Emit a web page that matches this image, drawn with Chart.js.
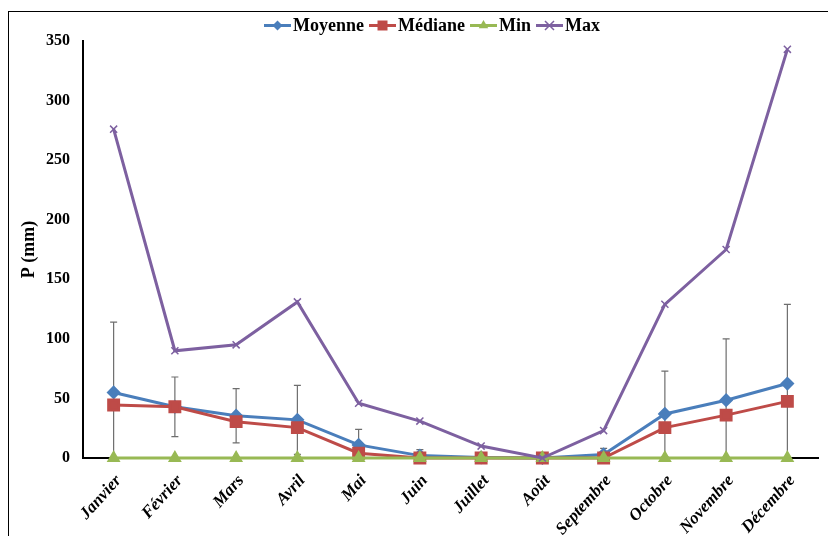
<!DOCTYPE html>
<html>
<head>
<meta charset="utf-8">
<script src="https://cdn.jsdelivr.net/npm/chart.js@4/dist/chart.umd.min.js"></script>
<style>
  html, body { margin: 0; padding: 0; background: #fff; overflow: hidden; }
  #wrap { position: relative; width: 828px; height: 536px; }
  #frame { position: absolute; left: 8px; top: 11px; width: 900px; height: 600px; border-left: 1.5px solid #000; border-top: 1.5px solid #000; }
  canvas { position: absolute; left: 0; top: 0; }
</style>
</head>
<body>
<div id="wrap">
  <div id="frame"></div>
  <canvas id="c" width="828" height="536"></canvas>
</div>
<script>
const categories = ['Janvier','Février','Mars','Avril','Mai','Juin','Juillet','Août','Septembre','Octobre','Novembre','Décembre'];
const moyenne = [55, 43, 35.5, 32, 11, 2, 0.5, 0, 3, 37, 48.5, 62.5];
const mediane = [44.5, 43, 30.5, 25.5, 4, 0, 0, 0, 0, 25.5, 36, 47.5];
const minVals = [0, 0, 0, 0, 0, 0, 0, 0, 0, 0, 0, 0];
const maxVals = [276, 90, 95, 131, 46, 31, 10, 0, 23, 129, 175, 343];
const ecartType = [59, 25, 22.8, 29, 13, 5, 1.5, 0, 5, 36, 51.5, 66.5];
const seriesNames = ['Moyenne', 'Médiane', 'Min', 'Max'];
const yTicks = [0, 50, 100, 150, 200, 250, 300, 350];

const colors = ['#4a7ebb', '#be4b48', '#98b954', '#7d60a0'];
const styles = ['rectRot', 'rect', 'triangle', 'crossRot'];

function drawMarker(ctx, style, x, y, color) {
  ctx.save();
  ctx.fillStyle = color; ctx.strokeStyle = color;
  ctx.beginPath();
  if (style === 'rectRot') {
    const r = 5;
    ctx.moveTo(x, y - r); ctx.lineTo(x + r, y); ctx.lineTo(x, y + r); ctx.lineTo(x - r, y); ctx.closePath(); ctx.fill();
  } else if (style === 'rect') {
    const s = 5; ctx.rect(x - s, y - s, 2 * s, 2 * s); ctx.fill();
  } else if (style === 'triangle') {
    const r = 5.5;
    ctx.moveTo(x, y - r); ctx.lineTo(x + r * 0.866, y + r * 0.5); ctx.lineTo(x - r * 0.866, y + r * 0.5); ctx.closePath(); ctx.fill();
  } else {
    const r = 4.5; ctx.lineWidth = 1.5;
    ctx.moveTo(x - r, y - r); ctx.lineTo(x + r, y + r); ctx.moveTo(x + r, y - r); ctx.lineTo(x - r, y + r); ctx.stroke();
  }
  ctx.restore();
}

const legendPlugin = {
  id: 'customLegend',
  afterDraw(chart) {
    const ctx = chart.ctx;
    ctx.save();
    ctx.font = 'bold 18px "Liberation Serif", "Times New Roman", serif';
    ctx.textBaseline = 'middle';
    const lineLen = 27, gap1 = 2, gap2 = 5;
    const widths = seriesNames.map(n => lineLen + gap1 + ctx.measureText(n).width);
    const total = widths.reduce((a, b) => a + b, 0) + gap2 * (seriesNames.length - 1);
    let x = 432 - total / 2;
    const y = 25.5;
    seriesNames.forEach((n, i) => {
      ctx.strokeStyle = colors[i]; ctx.lineWidth = 3;
      ctx.beginPath(); ctx.moveTo(x, y); ctx.lineTo(x + lineLen, y); ctx.stroke();
      drawMarker(ctx, styles[i], x + lineLen / 2, y, colors[i]);
      ctx.fillStyle = '#000';
      ctx.fillText(n, x + lineLen + gap1, y + 1);
      x += widths[i] + gap2;
    });
    ctx.restore();
  }
};

const errorBarPlugin = {
  id: 'errorBars',
  beforeDatasetsDraw(chart) {
    const ctx = chart.ctx;
    const xs = chart.scales.x, ys = chart.scales.y;
    const area = chart.chartArea;
    ctx.save();
    ctx.strokeStyle = '#6e6e6e';
    ctx.lineWidth = 1.2;
    moyenne.forEach((m, i) => {
      const sd = ecartType[i];
      if (!sd) return;
      const x = xs.getPixelForValue(i);
      const yTop = ys.getPixelForValue(m + sd);
      const yBotRaw = ys.getPixelForValue(m - sd);
      const yBot = Math.min(yBotRaw, area.bottom);
      ctx.beginPath();
      ctx.moveTo(x, yTop); ctx.lineTo(x, yBot);
      ctx.moveTo(x - 3.5, yTop); ctx.lineTo(x + 3.5, yTop);
      if (yBotRaw <= area.bottom - 1) { ctx.moveTo(x - 3.5, yBot); ctx.lineTo(x + 3.5, yBot); }
      ctx.stroke();
    });
    ctx.restore();
  }
};

const datasets = [
  { label: seriesNames[0], data: moyenne, borderColor: colors[0], backgroundColor: colors[0], pointStyle: 'rectRot', pointRadius: 5, order: 3 },
  { label: seriesNames[1], data: mediane, borderColor: colors[1], backgroundColor: colors[1], pointStyle: 'rect', pointRadius: 7, order: 2 },
  { label: seriesNames[2], data: minVals, borderColor: colors[2], backgroundColor: colors[2], pointStyle: 'triangle', pointRadius: 5, order: 1 },
  { label: seriesNames[3], data: maxVals, borderColor: colors[3], backgroundColor: colors[3], pointStyle: 'crossRot', pointRadius: 5, pointBorderWidth: 1.5, order: 0 }
].map(d => Object.assign({ borderWidth: 3, tension: 0, clip: false, pointBorderColor: d.borderColor, pointBackgroundColor: d.borderColor, pointHoverRadius: d.pointRadius }, d));

new Chart(document.getElementById('c'), {
  type: 'line',
  data: { labels: categories, datasets },
  options: {
    responsive: false,
    animation: false,
    devicePixelRatio: 1,
    layout: { padding: { top: 41, right: 5, left: 0, bottom: 0 } },
    plugins: { legend: { display: false }, tooltip: { enabled: false } },
    scales: {
      x: {
        offset: true,
        grid: { display: false, drawTicks: false },
        border: { display: true, color: '#000', width: 2 },
        ticks: {
          color: '#000', minRotation: 48, maxRotation: 48, padding: 13, labelOffset: 5, autoSkip: false,
          font: { family: '"Liberation Serif", "Times New Roman", serif', size: 17, weight: 'bold', style: 'italic' }
        },
        afterFit(scale) { scale.height = 78; }
      },
      y: {
        min: 0, max: 350,
        afterBuildTicks(scale) { scale.ticks = yTicks.map(v => ({ value: v })); },
        grid: { display: false, drawTicks: false },
        border: { display: true, color: '#000', width: 2 },
        ticks: {
          color: '#000', padding: 13,
          font: { family: '"Liberation Serif", "Times New Roman", serif', size: 16, weight: 'bold' }
        },
        title: {
          display: true, text: 'P (mm)', color: '#000', padding: { top: 19, bottom: 0 },
          font: { family: '"Liberation Serif", "Times New Roman", serif', size: 18, weight: 'bold' }
        },
        afterFit(scale) { scale.width = 83; }
      }
    }
  },
  plugins: [legendPlugin, errorBarPlugin]
});
</script>
</body>
</html>
